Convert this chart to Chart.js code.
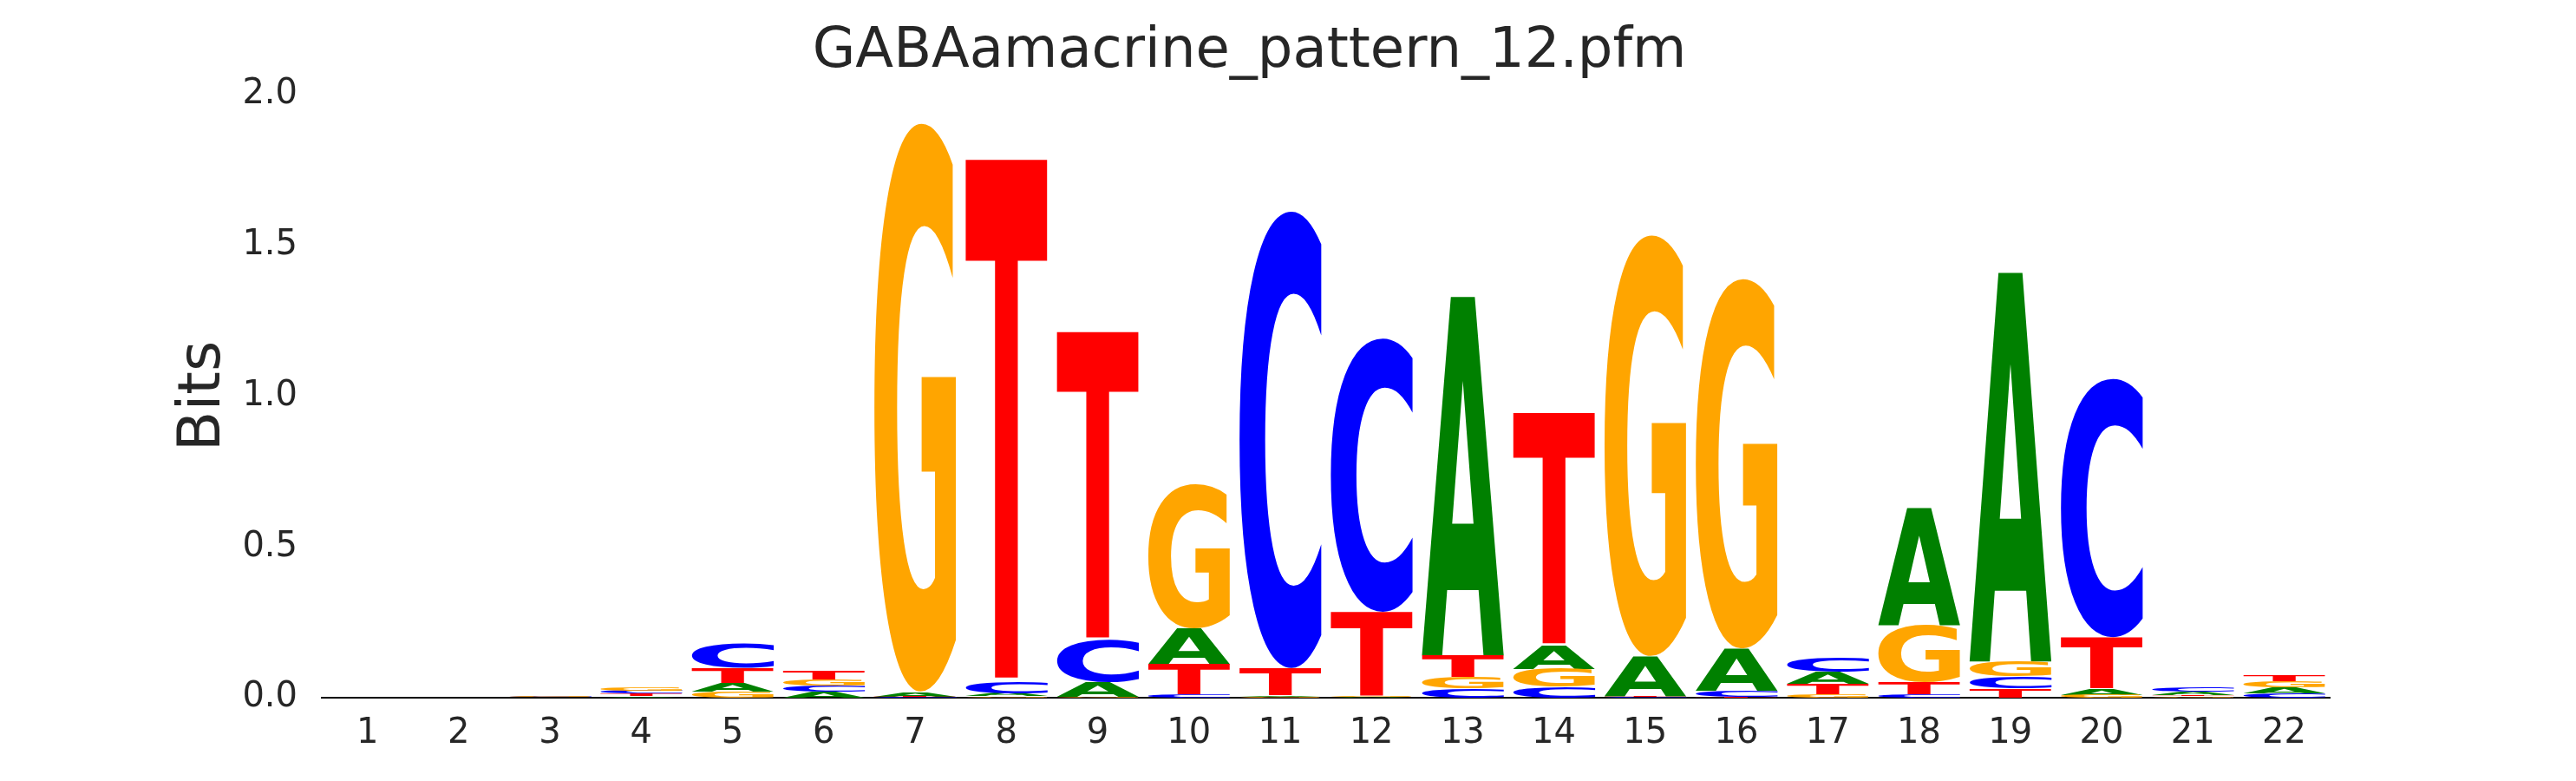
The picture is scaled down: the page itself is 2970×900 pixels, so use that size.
<!DOCTYPE html>
<html><head><meta charset="utf-8">
<script src="https://cdn.jsdelivr.net/npm/chart.js@4.4.1/dist/chart.umd.min.js"></script>
<style>html,body{margin:0;padding:0;background:#fff}</style>
</head><body>
<canvas id="c" width="2970" height="900"></canvas>
<script>
const positions = ['1','2','3','4','5','6','7','8','9','10','11','12','13','14','15','16','17','18','19','20','21','22'];
const A = [0,0,0.001,0.005,0.03,0.02,0.015,0.01,0.05,0.12,0.005,0.002,1.19,0.08,0.13,0.14,0.04,0.39,1.29,0.02,0.01,0.02];
const C = [0,0,0.002,0.01,0.08,0.02,0.002,0.04,0.14,0.01,1.52,0.91,0.03,0.035,0.002,0.02,0.045,0.01,0.04,0.86,0.015,0.015];
const G = [0,0,0.002,0.01,0.02,0.02,1.89,0.005,0.003,0.48,0.002,0.002,0.04,0.06,1.40,1.23,0.01,0.19,0.05,0.01,0.005,0.02];
const T = [0,0,0.001,0.008,0.05,0.03,0.002,1.73,1.02,0.1,0.09,0.28,0.07,0.77,0.005,0.002,0.035,0.04,0.03,0.17,0.005,0.02];
const yTicks = [0,0.5,1.0,1.5,2.0];

const letters = {A, C, G, T};
const colors = {A:'#008000', C:'#0000ff', G:'#ffa500', T:'#ff0000'};
const ranges = {A:[], C:[], G:[], T:[]};
positions.forEach((p, i) => {
  const order = Object.keys(letters).sort((a, b) => letters[a][i] - letters[b][i]);
  let acc = 0;
  order.forEach(l => { const h = letters[l][i]; ranges[l].push([acc, acc + h]); acc += h; });
});

const logoPlugin = {
  id: 'logo',
  afterDatasetsDraw(chart) {
    const ctx = chart.ctx;
    chart.data.datasets.forEach((ds, di) => {
      const meta = chart.getDatasetMeta(di);
      const L = ds.label;
      ctx.save();
      ctx.font = 'bold 200px "DejaVu Sans"';
      const m = ctx.measureText(L);
      const gw = m.actualBoundingBoxLeft + m.actualBoundingBoxRight;
      const gh = m.actualBoundingBoxAscent + m.actualBoundingBoxDescent;
      ctx.restore();
      meta.data.forEach(el => {
        const top = Math.min(el.y, el.base), h = Math.abs(el.base - el.y);
        if (h < 0.3) return;
        const left = el.x - el.width / 2, w = el.width;
        ctx.save();
        ctx.translate(left, top);
        ctx.scale(w / gw, h / gh);
        ctx.font = 'bold 200px "DejaVu Sans"';
        ctx.fillStyle = colors[L];
        ctx.textBaseline = 'alphabetic';
        ctx.fillText(L, m.actualBoundingBoxLeft, m.actualBoundingBoxAscent);
        ctx.restore();
      });
    });
  }
};

new Chart(document.getElementById('c'), {
  type: 'bar',
  data: {
    labels: positions,
    datasets: Object.keys(letters).map(l => ({
      label: l, data: ranges[l], backgroundColor: 'rgba(0,0,0,0)', borderWidth: 0,
      grouped: false, barPercentage: 0.93, categoryPercentage: 0.97
    }))
  },
  options: {
    responsive: false, animation: false,
    layout: { padding: { left: 195, right: 284, top: 0, bottom: 0 } },
    plugins: {
      legend: { display: false }, tooltip: { enabled: false },
      title: { display: true, text: 'GABAamacrine_pattern_12.pfm', color: '#262626',
        font: { family: '"DejaVu Sans"', size: 64, weight: 'normal' }, padding: { top: 22, bottom: 10 } }
    },
    scales: {
      x: {
        grid: { display: false, drawTicks: false },
        border: { display: true, color: '#000', width: 2 },
        ticks: { color: '#262626', font: { family: '"DejaVu Sans"', size: 40 }, padding: 18 },
        afterFit(a) { a.height = 96; }
      },
      y: {
        min: 0, max: 2,
        grid: { display: false, drawTicks: false },
        border: { display: false },
        afterBuildTicks(a) { a.ticks = yTicks.map(v => ({ value: v })); },
        ticks: { color: '#262626', font: { family: '"DejaVu Sans"', size: 40 }, padding: 28,
          callback: v => Number(v).toFixed(1) },
        title: { display: true, text: 'Bits', color: '#262626', font: { family: '"DejaVu Sans"', size: 68 }, padding: 0 },
        afterFit(a) { a.width = 176; }
      }
    }
  },
  plugins: [logoPlugin]
});
</script>
</body></html>
